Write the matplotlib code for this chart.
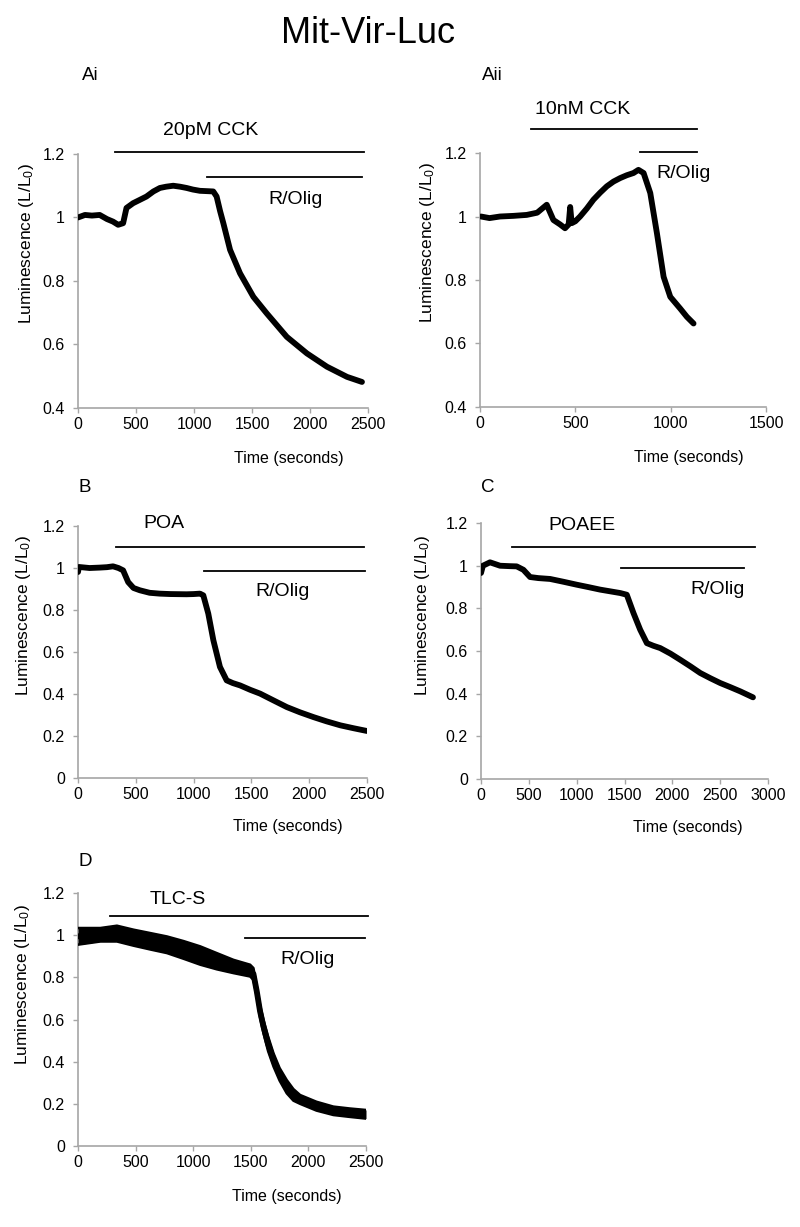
import matplotlib
matplotlib.use("Agg")
import matplotlib.pyplot as plt
import numpy as np

plt.rcParams['font.family'] = ['Liberation Sans', 'DejaVu Sans']
plt.rcParams['mathtext.fontset'] = 'custom'
plt.rcParams['mathtext.rm'] = 'Liberation Sans'
plt.rcParams['mathtext.it'] = 'Liberation Sans:italic'

# ---------------- data ----------------
ai_t = [0, 60, 120, 187, 250, 302, 346, 389, 418, 475, 530, 590, 650, 706, 760, 821,
        880, 936, 990, 1051, 1110, 1166, 1195, 1225, 1253, 1311, 1397, 1512, 1627,
        1800, 1973, 2146, 2319, 2448]
ai_L = [1.0, 1.008, 1.006, 1.008, 0.995, 0.987, 0.977, 0.982, 1.03, 1.045, 1.055, 1.066,
        1.082, 1.093, 1.097, 1.10, 1.097, 1.093, 1.088, 1.084, 1.083, 1.082, 1.066, 1.02,
        0.982, 0.898, 0.824, 0.75, 0.698, 0.624, 0.572, 0.53, 0.498, 0.482]

aii_t = [5, 50, 105, 175, 245, 300, 350, 385, 420, 446, 465, 473, 481, 500, 525, 560, 595,
         630, 665, 700, 735, 770, 805, 831, 858, 893, 928, 963, 998, 1050, 1085, 1120]
aii_L = [1.0, 0.995, 1.0, 1.002, 1.005, 1.012, 1.037, 0.989, 0.975, 0.963, 0.975, 1.03,
         0.979, 0.985, 1.0, 1.025, 1.053, 1.075, 1.095, 1.11, 1.121, 1.13, 1.137, 1.147,
         1.137, 1.074, 0.947, 0.81, 0.747, 0.71, 0.684, 0.663]

b_t = [0, 8, 100, 188, 250, 303, 350, 390, 434, 480, 535, 620, 708, 800, 939, 1000,
       1055, 1084, 1127, 1171, 1228, 1286, 1340, 1402, 1490, 1575, 1690, 1806, 1920,
       2038, 2150, 2269, 2385, 2500]
b_L = [0.981, 1.005, 1.0, 1.002, 1.004, 1.008, 1.0, 0.989, 0.933, 0.905, 0.894, 0.882,
       0.878, 0.876, 0.875, 0.876, 0.878, 0.87, 0.783, 0.656, 0.529, 0.465, 0.452, 0.441,
       0.42, 0.402, 0.37, 0.338, 0.313, 0.29, 0.27, 0.251, 0.237, 0.224]

c_t = [0, 20, 94, 199, 300, 373, 443, 513, 600, 722, 860, 1001, 1120, 1245, 1350, 1455,
       1524, 1594, 1664, 1734, 1800, 1873, 1980, 2083, 2190, 2292, 2400, 2501, 2610,
       2710, 2843]
c_L = [0.966, 1.0, 1.016, 1.0, 0.998, 0.997, 0.981, 0.947, 0.942, 0.938, 0.925, 0.911,
       0.9, 0.888, 0.88, 0.872, 0.864, 0.778, 0.7, 0.637, 0.625, 0.614, 0.588, 0.559,
       0.528, 0.497, 0.472, 0.45, 0.43, 0.411, 0.383]

d_t = [0, 194, 338, 483, 628, 772, 917, 1061, 1205, 1350, 1494, 1523, 1552, 1580, 1610,
       1650, 1697, 1750, 1812, 1870, 1928, 2070, 2217, 2360, 2500]
d_hi = [1.034, 1.034, 1.045, 1.026, 1.01, 0.994, 0.972, 0.947, 0.915, 0.883, 0.86, 0.844,
        0.757, 0.67, 0.598, 0.52, 0.44, 0.37, 0.313, 0.27, 0.242, 0.21, 0.187, 0.178, 0.171]
d_lo = [0.955, 0.970, 0.970, 0.95, 0.932, 0.915, 0.888, 0.86, 0.838, 0.82, 0.804, 0.788,
        0.709, 0.61, 0.535, 0.45, 0.377, 0.31, 0.25, 0.215, 0.2, 0.168, 0.147, 0.138, 0.13]

panels = [
    dict(label='Ai', pos=[0.0975, 0.6675, 0.3625, 0.207], t=ai_t, L=ai_L,
         xlim=(0, 2500), xticks=[0, 500, 1000, 1500, 2000, 2500],
         ylim=(0.4, 1.2), yticks=[0.4, 0.6, 0.8, 1.0, 1.2],
         drug='20pM CCK', drug_bar=(323, 2463, 1.206), drug_txt=(1143, 1.274),
         rolig_bar=(1109, 2448, 1.128), rolig_txt=(1872, 1.058),
         xlab=(0.728, -0.197), ylab=(-0.176, 0.646)),
    dict(label='Aii', pos=[0.6, 0.6683, 0.3575, 0.207], t=aii_t, L=aii_L,
         xlim=(0, 1500), xticks=[0, 500, 1000, 1500],
         ylim=(0.4, 1.2), yticks=[0.4, 0.6, 0.8, 1.0, 1.2],
         drug='10nM CCK', drug_bar=(266, 1138, 1.277), drug_txt=(539, 1.337),
         rolig_bar=(837, 1138, 1.202), rolig_txt=(1068, 1.134),
         xlab=(0.731, -0.2), ylab=(-0.182, 0.646)),
    dict(label='B', pos=[0.0975, 0.3659, 0.36125, 0.2054], t=b_t, L=b_L,
         xlim=(0, 2500), xticks=[0, 500, 1000, 1500, 2000, 2500],
         ylim=(0, 1.2), yticks=[0, 0.2, 0.4, 0.6, 0.8, 1.0, 1.2],
         drug='POA', drug_bar=(327, 2471, 1.1), drug_txt=(746, 1.211),
         rolig_bar=(1090, 2486, 0.986), rolig_txt=(1772, 0.886),
         xlab=(0.727, -0.194), ylab=(-0.19, 0.643)),
    dict(label='C', pos=[0.60125, 0.3651, 0.35875, 0.2086], t=c_t, L=c_L,
         xlim=(0, 3000), xticks=[0, 500, 1000, 1500, 2000, 2500, 3000],
         ylim=(0, 1.2), yticks=[0, 0.2, 0.4, 0.6, 0.8, 1.0, 1.2],
         drug='POAEE', drug_bar=(328, 2860, 1.086), drug_txt=(1053, 1.189),
         rolig_bar=(1465, 2745, 0.988), rolig_txt=(2473, 0.888),
         xlab=(0.72, -0.19), ylab=(-0.204, 0.64)),
    dict(label='D', pos=[0.0975, 0.066, 0.36, 0.2062], t=d_t, L=None,
         xlim=(0, 2500), xticks=[0, 500, 1000, 1500, 2000, 2500],
         ylim=(0, 1.2), yticks=[0, 0.2, 0.4, 0.6, 0.8, 1.0, 1.2],
         drug='TLC-S', drug_bar=(275, 2514, 1.089), drug_txt=(864, 1.171),
         rolig_bar=(1451, 2491, 0.985), rolig_txt=(1991, 0.887),
         xlab=(0.726, -0.2), ylab=(-0.193, 0.64)),
]

fig = plt.figure(figsize=(8, 12.27), dpi=100)
fig.text(0.4594, 1 - 43 / 1227, 'Mit-Vir-Luc', ha='center', va='baseline', fontsize=26)

spine_c = '#a6a6a6'
for p in panels:
    ax = fig.add_axes(p['pos'])
    if p['L'] is not None:
        ax.plot(p['t'], p['L'], color='black', lw=4.2, solid_capstyle='round',
                solid_joinstyle='round', zorder=3)
    else:
        mid = [(h + l) / 2 for h, l in zip(d_hi, d_lo)]
        ax.fill_between(p['t'], d_lo, d_hi, color='black', lw=0, zorder=3)
        ax.plot(p['t'], mid, color='black', lw=4.2, solid_capstyle='round', zorder=3)
        ax.plot(p['t'], d_hi, color='black', lw=1.8, zorder=3)
        ax.plot(p['t'], d_lo, color='black', lw=1.8, zorder=3)
    ax.set_xlim(*p['xlim'])
    ax.set_ylim(*p['ylim'])
    ax.set_xticks(p['xticks'])
    ax.set_yticks(p['yticks'])
    ax.set_yticklabels([f'{v:g}' for v in p['yticks']])
    ax.set_xticklabels([str(v) for v in p['xticks']])
    for s in ['top', 'right']:
        ax.spines[s].set_visible(False)
    for s in ['left', 'bottom']:
        ax.spines[s].set_color(spine_c)
        ax.spines[s].set_linewidth(1.2)
    ax.tick_params(axis='both', colors=spine_c, labelcolor='black', labelsize=11.5,
                   length=3.5, width=1.0, direction='out')
    ax.tick_params(axis='y', pad=6)
    ax.tick_params(axis='x', pad=3)
    x0, x1, yb = p['drug_bar']
    ax.plot([x0, x1], [yb, yb], color='black', lw=1.3, clip_on=False)
    ax.text(p['drug_txt'][0], p['drug_txt'][1], p['drug'], ha='center', va='center',
            fontsize=14)
    x0, x1, yb = p['rolig_bar']
    ax.plot([x0, x1], [yb, yb], color='black', lw=1.3, clip_on=False)
    ax.text(p['rolig_txt'][0], p['rolig_txt'][1], 'R/Olig', ha='center', va='center',
            fontsize=14)
    ax.text(p['xlab'][0], p['xlab'][1], 'Time (seconds)', transform=ax.transAxes,
            ha='center', va='center', fontsize=11.5)
    ax.text(p['ylab'][0], p['ylab'][1], r'Luminescence (L/L$_\mathregular{0}$)',
            transform=ax.transAxes, rotation=90, ha='center', va='center', fontsize=12.5)

letters = [('Ai', 82, 75), ('Aii', 482, 75), ('B', 79, 487), ('C', 481, 487), ('D', 78, 862)]
for txt, px, py in letters:
    fig.text(px / 800, 1 - py / 1227, txt, ha='left', va='center', fontsize=13.5)

fig.savefig('out.png', dpi=100, facecolor='white')
